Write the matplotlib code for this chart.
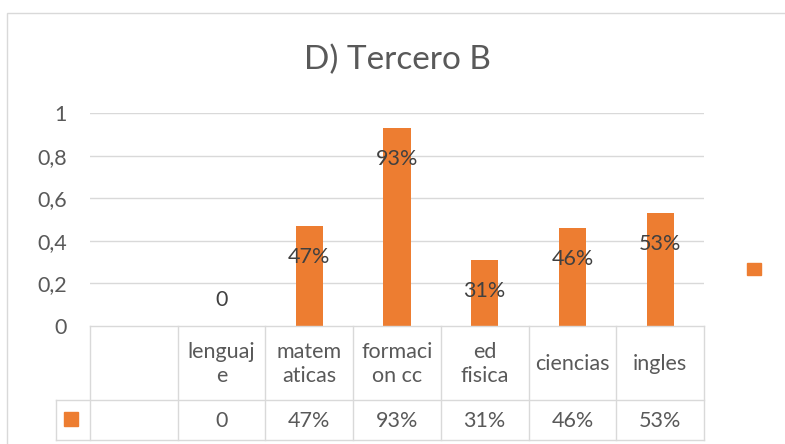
import matplotlib
matplotlib.use("Agg")
import matplotlib.pyplot as plt
from matplotlib.patches import Rectangle
from matplotlib.lines import Line2D
import matplotlib.transforms as mtransforms

plt.rcParams['font.family'] = ['Lato', 'DejaVu Sans']

# ---- data ----
title = "D) Tercero B"
categories = ["", "lenguaje", "matematicas", "formacion cc", "ed fisica", "ciencias", "ingles"]
header_labels = ["", "lenguaj\ne", "matem\naticas", "formaci\non cc", "ed\nfisica", "ciencias", "ingles"]
values = [None, 0, 0.47, 0.93, 0.31, 0.46, 0.53]
value_labels = ["", "0", "47%", "93%", "31%", "46%", "53%"]
yticks = [0, 0.2, 0.4, 0.6, 0.8, 1]
ytick_labels = ["0", "0,2", "0,4", "0,6", "0,8", "1"]

ORANGE = "#ED7D31"
TXT = "#595959"
LBL = "#404040"
GRID = "#d9d9d9"
FS = 15.5

W, H = 785, 444
fig = plt.figure(figsize=(W / 100, H / 100), dpi=100)

def fx(px):
    return px / W

def fy(py):
    return 1 - py / H

# chart border (left/top visible)
fig.patches.append(Rectangle((fx(7), fy(460)), fx(800) - fx(7), fy(13) - fy(460),
                             transform=fig.transFigure, fill=False,
                             edgecolor="#d9d9d9", linewidth=1.0))

left, right, top, bottom = 90, 704, 113, 326
ax = fig.add_axes([fx(left), fy(bottom), fx(right) - fx(left), fy(top) - fy(bottom)])
ax.set_xlim(-0.5, len(categories) - 0.5)
ax.set_ylim(0, 1)
for s in ax.spines.values():
    s.set_visible(False)
ax.set_yticks(yticks)
ax.set_yticklabels(ytick_labels, fontsize=FS, color=TXT)
ax.tick_params(axis='y', length=0, pad=16.5)
ax.set_xticks([])
for y in yticks[1:]:
    ax.axhline(y, color=GRID, linewidth=1.0, zorder=0)

xs = [i for i, v in enumerate(values) if v is not None]
vs = [v for v in values if v is not None]
ax.bar(xs, vs, width=0.31, color=ORANGE, zorder=2)

for i, v in enumerate(values):
    if v is None:
        continue
    off = -31 if v > 0 else 26
    ax.annotate(value_labels[i], (i, v), xytext=(0, off), textcoords='offset pixels',
                ha='center', va='center', fontsize=FS, color=LBL, zorder=3)

ax.set_title(title, fontsize=24, color=TXT, pad=0, y=1 + (113 - 60) / (bottom - top), va='center')

# ---- data table ----
trans = mtransforms.blended_transform_factory(ax.transData, fig.transFigure)
row1_top, row_mid, row_bot = 326, 400, 440
n = len(categories)
lw = 1.0
fig.add_artist(Line2D([-0.5, n - 0.5], [fy(row1_top)] * 2, transform=trans, color=GRID, lw=lw))
for yy in (row_mid, row_bot):
    fig.add_artist(Line2D([fx(56), fx(right)], [fy(yy)] * 2, transform=fig.transFigure, color=GRID, lw=lw))
for k in range(n + 1):
    fig.add_artist(Line2D([k - 0.5, k - 0.5], [fy(row1_top), fy(row_bot)], transform=trans, color=GRID, lw=lw))
fig.add_artist(Line2D([fx(56), fx(56)], [fy(row_mid), fy(row_bot)], transform=fig.transFigure, color=GRID, lw=lw))

for i in range(n):
    fig.text(i, fy(364), header_labels[i], transform=trans, ha='center', va='center',
             fontsize=FS, color=TXT, linespacing=1.25, multialignment='center')
    fig.text(i, fy(421), value_labels[i], transform=trans, ha='center', va='center',
             fontsize=FS, color=TXT)

# legend key in table
fig.patches.append(Rectangle((fx(64), fy(426)), fx(14), (426 - 412) / H,
                             transform=fig.transFigure, color=ORANGE))
# legend marker at right
fig.patches.append(Rectangle((fx(747), fy(275)), fx(14), (275 - 263) / H,
                             transform=fig.transFigure, color=ORANGE))

fig.savefig("out.png", dpi=100, facecolor="white")
